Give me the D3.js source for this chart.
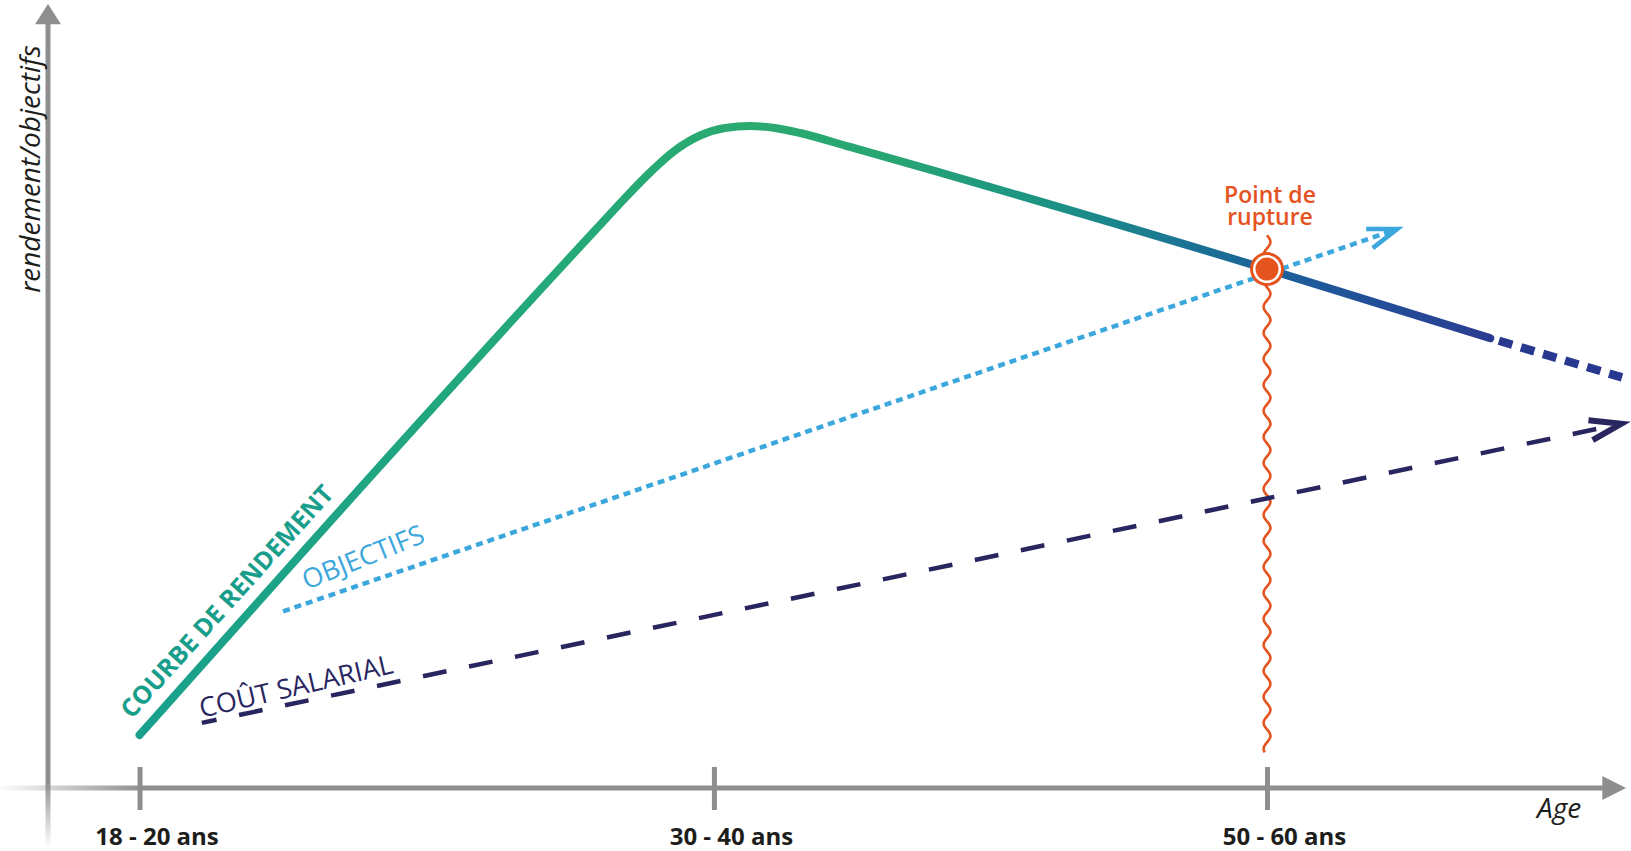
<!DOCTYPE html>
<html><head><meta charset="utf-8">
<script src="https://cdn.jsdelivr.net/npm/d3@7"></script>
<style>
html,body{margin:0;padding:0;background:#fff;overflow:hidden;}
svg{display:block;}
text{font-family:"Open Sans","Noto Sans",sans-serif;}
</style></head><body>
<svg id="chart" width="1631" height="851"></svg>
<script>
// ---------------- data ----------------
const ageTickLabels = ["18 - 20 ans", "30 - 40 ans", "50 - 60 ans"];
const ageTickPositions = [5.8, 42.2, 77.25];
const rendementX = [5.8, 34.98, 36.57, 38.15, 39.73, 41.32, 42.9, 44.49, 46.07, 47.66, 50.82, 77.25, 91.4];
const rendementY = [6.75, 71.72, 75.16, 78.41, 81.21, 83.12, 84.08, 84.33, 84.08, 83.44, 81.66, 66.1, 57.3];
const projectionX = [91.4, 99.75];
const projectionY = [57.3, 52.3];
const objectifsX = [14.9, 85.5];
const objectifsY = [22.5, 71.2];
const coutX = [9.75, 99.7];
const coutY = [8.3, 46.4];
const ruptureX = 77.25;
const ruptureY = 66.1;
const ruptureRange = [4.6, 70.4];
const seriesLabels = ["COURBE DE RENDEMENT", "OBJECTIFS", "COÛT SALARIAL"];
const ruptureLabel = ["Point de", "rupture"];
const xAxisTitle = "Age";
const yAxisTitle = "rendement/objectifs";

// ---------------- setup ----------------
const svg = d3.select("#chart");
const defs = svg.append("defs");
const x = d3.scaleLinear().domain([0, 100]).range([48, 1626]);
const y = d3.scaleLinear().domain([0, 100]).range([788, 3]);
const GRAY = "#8e8e8e";

// gradients
const gx = defs.append("linearGradient").attr("id", "gX").attr("gradientUnits", "userSpaceOnUse")
  .attr("x1", 0).attr("x2", 145).attr("y1", 0).attr("y2", 0);
gx.append("stop").attr("offset", 0).attr("stop-color", GRAY).attr("stop-opacity", 0.03);
gx.append("stop").attr("offset", 1).attr("stop-color", GRAY).attr("stop-opacity", 1);
const gy = defs.append("linearGradient").attr("id", "gY").attr("gradientUnits", "userSpaceOnUse")
  .attr("x1", 0).attr("x2", 0).attr("y1", 848).attr("y2", 780);
gy.append("stop").attr("offset", 0).attr("stop-color", GRAY).attr("stop-opacity", 0);
gy.append("stop").attr("offset", 1).attr("stop-color", GRAY).attr("stop-opacity", 1);

const gr = defs.append("linearGradient").attr("id", "gR").attr("gradientUnits", "userSpaceOnUse")
  .attr("x1", x(rendementX[0])).attr("x2", x(rendementX[rendementX.length - 1])).attr("y1", 0).attr("y2", 0);
[[0, "#19a08d"], [0.3, "#24a97a"], [0.45, "#2aaa6f"], [0.55, "#27a672"], [0.68, "#1b9185"],
 [0.78, "#1b7295"], [0.86, "#1d5b9b"], [1, "#2a3c91"]].forEach(([o, c]) =>
  gr.append("stop").attr("offset", o).attr("stop-color", c));

// ---------------- axes ----------------
svg.append("line").attr("x1", x(0)).attr("x2", x(0)).attr("y1", 848).attr("y2", y(97.5))
  .attr("stroke", "url(#gY)").attr("stroke-width", 5);
svg.append("path").attr("d", `M${x(0)},${y(100) + 1} L${x(0) - 13},${y(97.3)} L${x(0) + 13},${y(97.3)} Z`)
  .attr("fill", GRAY);
svg.append("line").attr("x1", 0).attr("x2", x(98.6)).attr("y1", y(0)).attr("y2", y(0))
  .attr("stroke", "url(#gX)").attr("stroke-width", 5);
svg.append("path").attr("d", `M${x(100)},${y(0)} L${x(98.5)},${y(0) - 12} L${x(98.5)},${y(0) + 12} Z`)
  .attr("fill", GRAY);

const xAxis = d3.axisBottom(x).tickValues(ageTickPositions)
  .tickFormat((d, i) => ageTickLabels[i]).tickSizeOuter(0);
const gAx = svg.append("g").attr("transform", `translate(0,${y(0)})`).call(xAxis);
gAx.select(".domain").remove();
gAx.selectAll(".tick line").attr("y1", -21).attr("y2", 22).attr("stroke", GRAY).attr("stroke-width", 5);
gAx.selectAll(".tick text").attr("y", 57).attr("dy", 0).attr("dx", 17)
  .attr("fill", "#1d1d1b").style("font-size", "24px").style("font-weight", 700)
  .style("font-family", '"Open Sans","Noto Sans",sans-serif');

svg.append("text").attr("x", 1537).attr("y", 818).text(xAxisTitle)
  .attr("fill", "#1d1d1b").style("font-size", "28px").style("font-style", "italic");
svg.append("text").attr("transform", `translate(40,169) rotate(-90)`).attr("text-anchor", "middle")
  .text(yAxisTitle).attr("fill", "#1d1d1b").style("font-size", "28px").style("font-style", "italic");

// ---------------- rupture wave ----------------
const cx = x(ruptureX), cy = y(ruptureY);
const wTop = y(ruptureRange[1]), wBot = y(ruptureRange[0]);
const wavePts = d3.range(wTop, wBot + 0.5, 1).map(py =>
  [cx + 3.4 * Math.sin((py - wTop) / 26 * 2 * Math.PI), py]);
svg.append("path").attr("d", d3.line()(wavePts)).attr("fill", "none")
  .attr("stroke", "#e5531f").attr("stroke-width", 2.6);

// ---------------- series ----------------
const line = d3.line().x(d => x(d[0])).y(d => y(d[1]));
const coutPts = coutX.map((v, i) => [v, coutY[i]]);
svg.append("path").attr("d", line(coutPts)).attr("fill", "none")
  .attr("stroke", "#29255f").attr("stroke-width", 4.5)
  .attr("stroke-dasharray", "24,23").attr("stroke-dashoffset", 9);
function chevron(pts, len, half, color, sw) {
  const [a, b] = pts.slice(-2).map(p => [x(p[0]), y(p[1])]);
  const ang = Math.atan2(b[1] - a[1], b[0] - a[0]) + Math.PI;
  const h = half * Math.PI / 180;
  const p1 = [b[0] + len * Math.cos(ang - h), b[1] + len * Math.sin(ang - h)];
  const p2 = [b[0] + len * Math.cos(ang + h), b[1] + len * Math.sin(ang + h)];
  svg.append("path").attr("d", `M${p1}L${b}L${p2}`).attr("fill", "none")
    .attr("stroke", color).attr("stroke-width", sw).attr("stroke-linejoin", "miter")
    .attr("stroke-miterlimit", 10);
}
chevron(coutPts, 33, 18, "#29255f", 6);

const objPts = objectifsX.map((v, i) => [v, objectifsY[i]]);
svg.append("path").attr("d", line(objPts)).attr("fill", "none")
  .attr("stroke", "#3ba7dd").attr("stroke-width", 4.5).attr("stroke-dasharray", "7,5");
chevron(objPts, 31, 19, "#3ba7dd", 4.5);

const rendPts = rendementX.map((v, i) => [v, rendementY[i]]);
svg.append("path").attr("d", d3.line().x(d => x(d[0])).y(d => y(d[1])).curve(d3.curveMonotoneX)(rendPts))
  .attr("fill", "none").attr("stroke", "url(#gR)").attr("stroke-width", 8).attr("stroke-linecap", "round");
const projPts = projectionX.map((v, i) => [v, projectionY[i]]);
svg.append("path").attr("d", line(projPts)).attr("fill", "none")
  .attr("stroke", "#283891").attr("stroke-width", 8.5)
  .attr("stroke-dasharray", "14,9").attr("stroke-dashoffset", 14);

// rupture point
svg.append("circle").attr("cx", cx).attr("cy", cy).attr("r", 17).attr("fill", "#e5531f");
svg.append("circle").attr("cx", cx).attr("cy", cy).attr("r", 14).attr("fill", "#fff");
svg.append("circle").attr("cx", cx).attr("cy", cy).attr("r", 11.5).attr("fill", "#e5531f");
svg.append("text").attr("text-anchor", "middle").attr("fill", "#e5531f")
  .attr("x", cx + 3).attr("y", 203).text(ruptureLabel[0])
  .style("font-size", "23px").style("font-weight", 600);
svg.append("text").attr("text-anchor", "middle").attr("fill", "#e5531f")
  .attr("x", cx + 3).attr("y", 225).text(ruptureLabel[1])
  .style("font-size", "23px").style("font-weight", 600);

// ---------------- series labels ----------------
function lineLabel(pts, along, offset, extraDeg, text, color, size, weight) {
  const [a, b] = pts.slice(0, 2).map(p => [x(p[0]), y(p[1])]);
  const deg = Math.atan2(b[1] - a[1], b[0] - a[0]) * 180 / Math.PI + extraDeg;
  svg.append("text").attr("transform", `translate(${a[0]},${a[1]}) rotate(${deg})`)
    .attr("x", along).attr("y", -offset).text(text)
    .attr("fill", color).style("font-size", size + "px").style("font-weight", weight);
}
lineLabel(rendPts, 6, 16, 0, seriesLabels[0], "#199e8b", 25, 700);
lineLabel(objPts, 30, 11, -3, seriesLabels[1], "#3ba7dd", 27, 500);
lineLabel(coutPts, 1, 5, -1.2, seriesLabels[2], "#29255f", 27, 400);
</script>
</body></html>
